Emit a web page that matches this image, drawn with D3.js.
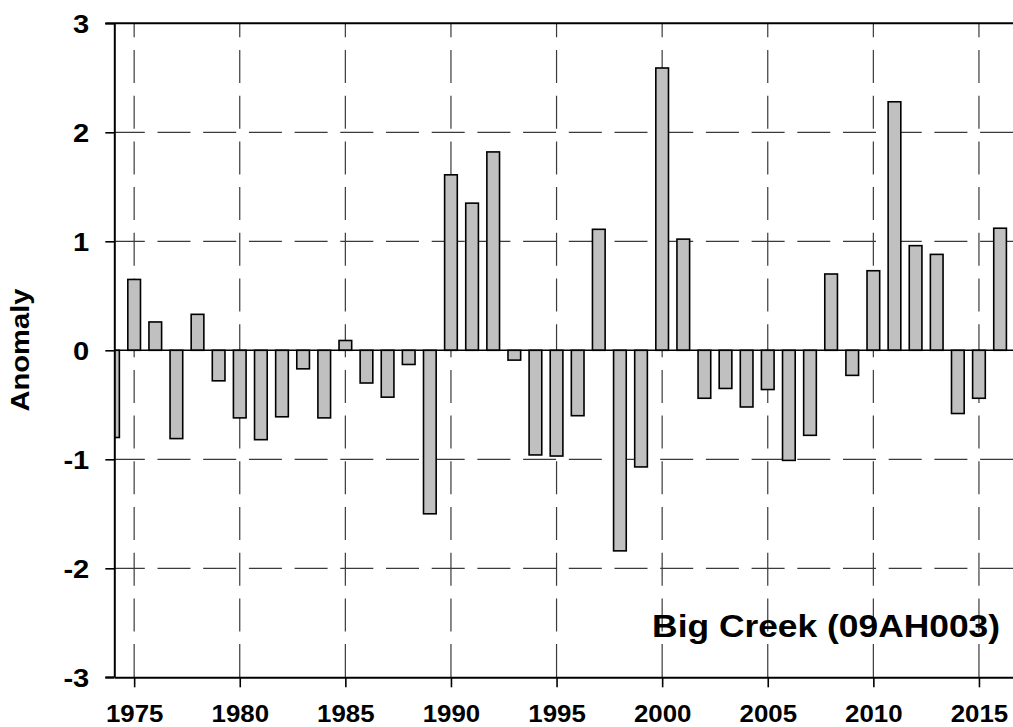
<!DOCTYPE html>
<html>
<head>
<meta charset="utf-8">
<script src="https://cdn.jsdelivr.net/npm/d3@7"></script>
<style>
  html, body { margin: 0; padding: 0; background: #fff; }
  svg { display: block; }
  text { font-family: "Liberation Sans", Arial, sans-serif; font-weight: bold; fill: #000; }
</style>
</head>
<body>
<svg id="chart" width="1013" height="727"></svg>
<script>
// Annual anomaly series, Big Creek (09AH003)
const years = [1974, 1975, 1976, 1977, 1978, 1979, 1980, 1981, 1982, 1983,
               1984, 1985, 1986, 1987, 1988, 1989, 1990, 1991, 1992, 1993,
               1994, 1995, 1996, 1997, 1998, 1999, 2000, 2001, 2002, 2003,
               2004, 2005, 2006, 2007, 2008, 2009, 2010, 2011, 2012, 2013,
               2014, 2015, 2016];
const anomalies = [-0.80, 0.65, 0.26, -0.81, 0.33, -0.28, -0.62, -0.82, -0.61, -0.17,
                   -0.62, 0.09, -0.30, -0.43, -0.13, -1.50, 1.61, 1.35, 1.82, -0.09,
                   -0.96, -0.97, -0.60, 1.11, -1.84, -1.07, 2.59, 1.02, -0.44, -0.35,
                   -0.52, -0.36, -1.01, -0.78, 0.70, -0.23, 0.73, 2.28, 0.96, 0.88,
                   -0.58, -0.44, 1.12];
const xTicks = [1975, 1980, 1985, 1990, 1995, 2000, 2005, 2010, 2015];
const yTicks = [-3, -2, -1, 0, 1, 2, 3];
const stationLabel = "Big Creek (09AH003)";
const yAxisTitle = "Anomaly";

const svg = d3.select("#chart");
const plotLeft = 114.3, plotTop = 23.3, plotBottom = 677.3;

const x = d3.scaleLinear().domain([1974.06, 2017]).range([plotLeft, plotLeft + 42.94 * 21.12]);
const y = d3.scaleLinear().domain([-3, 3]).range([plotBottom, plotTop]);
const plotRight = x.range()[1];
const barW = 0.6 * (x(1) - x(0));

svg.append("defs").append("clipPath").attr("id", "plotClip")
  .append("rect").attr("x", plotLeft).attr("y", plotTop - 2)
  .attr("width", plotRight - plotLeft).attr("height", plotBottom - plotTop + 4);

// dashed grid
const grid = svg.append("g").attr("stroke", "#3a3a3a").attr("stroke-width", 1.2)
  .attr("stroke-dasharray", "33,12.7").attr("fill", "none");
grid.selectAll("line.v").data(xTicks).join("line").attr("class", "v")
  .attr("x1", d => x(d)).attr("x2", d => x(d))
  .attr("y1", plotTop).attr("y2", plotBottom)
  .attr("stroke-dashoffset", 19);
grid.selectAll("line.h").data(yTicks.filter(d => d !== 0 && Math.abs(d) !== 3)).join("line").attr("class", "h")
  .attr("x1", plotLeft).attr("x2", plotRight)
  .attr("y1", d => y(d)).attr("y2", d => y(d))
  .attr("stroke-dashoffset", 2.5);

// bars
const data = years.map((yr, i) => ({ yr, v: anomalies[i] }));
svg.append("g").attr("clip-path", "url(#plotClip)")
  .selectAll("rect").data(data).join("rect")
  .attr("x", d => x(d.yr) - barW / 2)
  .attr("width", barW)
  .attr("y", d => y(Math.max(0, d.v)))
  .attr("height", d => Math.abs(y(d.v) - y(0)))
  .attr("fill", "#c0c0c0")
  .attr("stroke", "#000")
  .attr("stroke-width", 1.6);

// zero line
svg.append("line").attr("x1", plotLeft).attr("x2", plotRight)
  .attr("y1", y(0)).attr("y2", y(0))
  .attr("stroke", "#000").attr("stroke-width", 1.6);

// axes (plain hyphen-minus labels)
const plainFmt = d => String(d);
const xAxis = d3.axisBottom(x).tickValues(xTicks).tickSize(10).tickSizeOuter(0).tickFormat(plainFmt);
const gx = svg.append("g").attr("transform", `translate(0,${plotBottom})`).call(xAxis);
const yAxis = d3.axisLeft(y).tickValues(yTicks).tickSize(9).tickSizeOuter(0).tickFormat(plainFmt);
const gy = svg.append("g").attr("transform", `translate(${plotLeft},0)`).call(yAxis);

[gx, gy].forEach(g => {
  g.attr("font-family", null).attr("font-size", null);
  g.select(".domain").attr("stroke", "#000").attr("stroke-width", 2);
  g.selectAll(".tick line").attr("stroke", "#000").attr("stroke-width", 1.6);
  g.selectAll(".tick text").attr("fill", "#000");
});

gx.selectAll(".tick text")
  .attr("y", null).attr("dy", null)
  .attr("transform", "translate(0,45) scale(1.1,1)")
  .style("font-size", "23.5px");
gy.selectAll(".tick text")
  .attr("x", null).attr("dy", null)
  .attr("text-anchor", "end")
  .attr("transform", "translate(-25,9.5) scale(1.12,1)")
  .style("font-size", "26px");

// top frame line
svg.append("line").attr("x1", plotLeft - 9).attr("x2", plotRight)
  .attr("y1", plotTop).attr("y2", plotTop)
  .attr("stroke", "#000").attr("stroke-width", 2);
// bottom frame line starts at outer tick
svg.append("line").attr("x1", plotLeft - 9).attr("x2", plotLeft)
  .attr("y1", plotBottom).attr("y2", plotBottom)
  .attr("stroke", "#000").attr("stroke-width", 2);

// axis title
svg.append("text")
  .attr("transform", "translate(29,350) rotate(-90) scale(1.12,1)")
  .attr("text-anchor", "middle")
  .style("font-size", "26px")
  .text(yAxisTitle);

// station label
svg.append("text")
  .attr("transform", "translate(1000,637) scale(1.16,1)")
  .attr("text-anchor", "end")
  .style("font-size", "30.5px")
  .text(stationLabel);
</script>
</body>
</html>
